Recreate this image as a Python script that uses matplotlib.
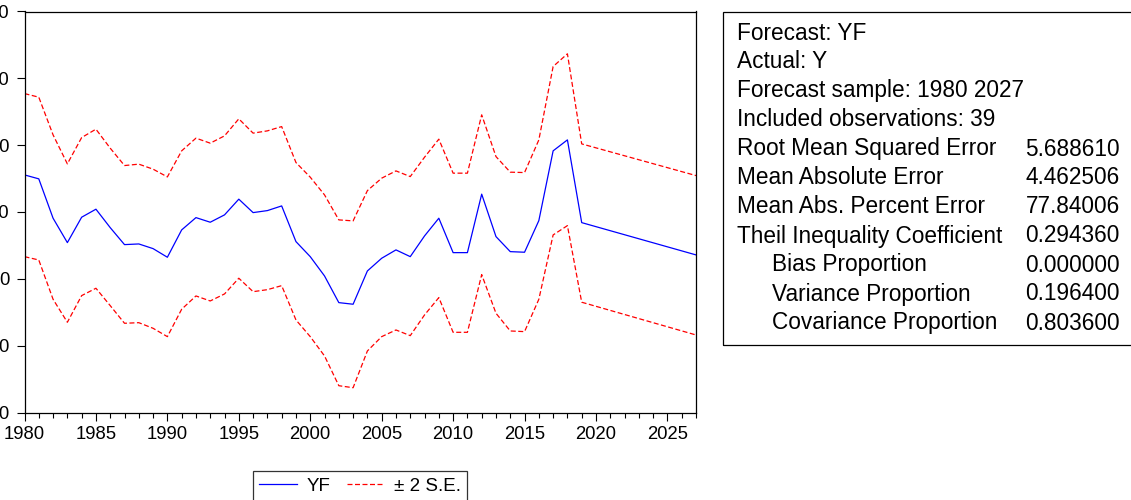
import matplotlib
matplotlib.use("Agg")
import matplotlib.pyplot as plt
from matplotlib.patches import Rectangle
from matplotlib.ticker import MultipleLocator

plt.rcParams["font.family"] = ["Liberation Sans", "DejaVu Sans"]

# Forecast YF with +/- 2 S.E. band
years = list(range(1980, 2020)) + [2027]
yf = [15.55, 14.96, 9.07, 5.42, 9.22, 10.42, 7.66, 5.12, 5.22, 4.52,
      3.23, 7.32, 9.16, 8.47, 9.57, 11.92, 9.91, 10.21, 10.91, 5.57,
      3.32, 0.43, -3.56, -3.80, 1.18, 3.08, 4.33, 3.32, 6.42, 9.07,
      3.92, 3.92, 12.67, 6.32, 4.07, 3.98, 8.71, 19.15, 20.79, 8.41,
      3.58]
upper = [27.72, 27.18, 21.54, 17.20, 21.14, 22.39, 19.55, 16.95, 17.16, 16.41,
         15.25, 19.15, 21.05, 20.30, 21.39, 23.94, 21.80, 22.14, 22.78, 17.40,
         15.21, 12.56, 8.82, 8.67, 13.20, 15.06, 16.15, 15.30, 18.20, 20.90,
         15.81, 15.81, 24.54, 18.29, 15.96, 15.90, 20.79, 31.77, 33.67, 20.19,
         15.45]
lower = [3.32, 2.82, -3.06, -6.50, -2.51, -1.41, -4.01, -6.65, -6.56, -7.40,
         -8.65, -4.55, -2.56, -3.31, -2.26, 0.09, -1.92, -1.62, -1.02, -6.15,
         -8.65, -11.54, -15.99, -16.29, -10.79, -8.65, -7.65, -8.50, -5.40, -2.81,
         -8.00, -8.00, 0.63, -5.15, -7.80, -7.90, -3.06, 6.57, 7.96, -3.50,
         -8.40]

stat_labels = ["Forecast: YF", "Actual: Y", "Forecast sample: 1980 2027",
               "Included observations: 39", "Root Mean Squared Error",
               "Mean Absolute Error", "Mean Abs. Percent Error",
               "Theil Inequality Coefficient", "Bias Proportion",
               "Variance Proportion", "Covariance Proportion"]
stat_values = ["", "", "", "", "5.688610", "4.462506", "77.84006",
               "0.294360", "0.000000", "0.196400", "0.803600"]
indented = [False] * 8 + [True] * 3

W, H = 1131, 500
fig = plt.figure(figsize=(W / 100, H / 100), dpi=100)

# axes box in pixels: left 24.5, right 696, top 11.5, bottom 412.5
ax = fig.add_axes([24.5 / W, 1 - 412.5 / H, (696 - 24.5) / W, (412.5 - 11.5) / H])
ax.plot(years, yf, color="#0000FF", lw=0.9, label="YF")
ax.plot(years, upper, color="#FF0000", lw=0.9, ls=(0, (4, 2)), label="\u00b1 2 S.E.")
ax.plot(years, lower, color="#FF0000", lw=0.9, ls=(0, (4, 2)))

ax.set_xlim(1980, 2027)
ax.set_ylim(-20, 40)
ax.xaxis.set_major_locator(MultipleLocator(5))
ax.xaxis.set_minor_locator(MultipleLocator(1))
ax.yaxis.set_major_locator(MultipleLocator(10))
ax.tick_params(axis="both", which="major", direction="out", length=6, width=0.8,
               labelsize=13.3, colors="black")
ax.tick_params(axis="x", which="major", pad=3.5)
ax.tick_params(axis="y", which="major", pad=5)
ax.tick_params(axis="x", which="minor", direction="out", length=3.5, width=0.8)
for s in ax.spines.values():
    s.set_linewidth(0.9)

leg = fig.legend(loc="upper center", bbox_to_anchor=(360 / W, 1 - 471 / H),
                 ncol=2, fontsize=13.5, frameon=True, fancybox=False,
                 handlelength=2.0, handletextpad=0.5, columnspacing=0.9,
                 borderpad=0.35, borderaxespad=0)
leg.get_frame().set_edgecolor("black")
leg.get_frame().set_linewidth(0.9)

# statistics box
fig.add_artist(Rectangle((723 / W, 1 - 345 / H), 420 / W, 333.5 / H,
                         transform=fig.transFigure, fill=False,
                         edgecolor="black", lw=0.9))
for i, (lab, val) in enumerate(zip(stat_labels, stat_values)):
    y = 1 - (33 + i * 29) / H
    x = (772 if indented[i] else 737) / W
    fig.text(x, y, lab, fontsize=16.3, va="center", ha="left")
    if val:
        fig.text(1120 / W, y, val, fontsize=16.3, va="center", ha="right")

fig.savefig("out.png", dpi=100)
